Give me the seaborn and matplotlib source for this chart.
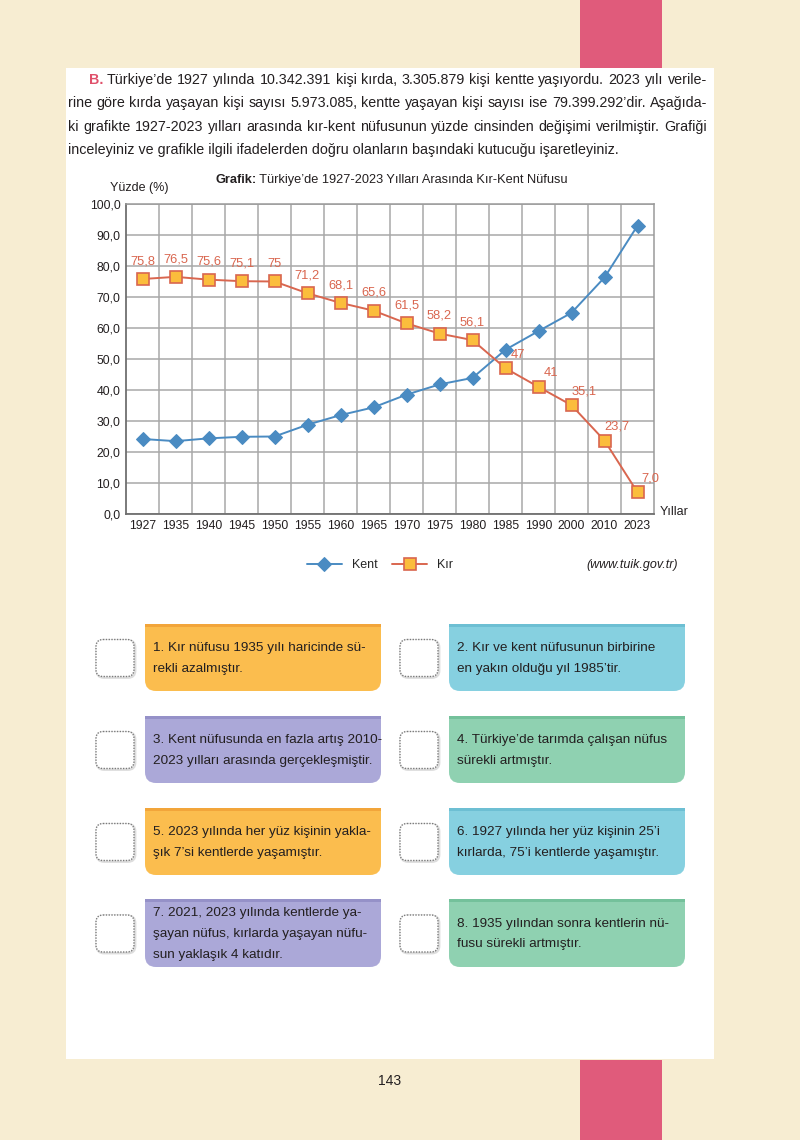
import matplotlib
import numpy as np
import pandas as pd
import seaborn as sns
from matplotlib import pyplot as plt
from matplotlib.patches import FancyBboxPatch, Rectangle

matplotlib.use("Agg")

# --- data -----------------------------------------------------------------
years = ["1927", "1935", "1940", "1945", "1950", "1955", "1960", "1965",
         "1970", "1975", "1980", "1985", "1990", "2000", "2010", "2023"]
kent = [24.2, 23.5, 24.4, 24.9, 25.0, 28.8, 31.9, 34.4,
        38.5, 41.8, 43.9, 53.0, 59.0, 64.9, 76.3, 93.0]
kir = [75.8, 76.5, 75.6, 75.1, 75.0, 71.2, 68.1, 65.6,
       61.5, 58.2, 56.1, 47.0, 41.0, 35.1, 23.7, 7.0]
kir_labels = ["75,8", "76,5", "75,6", "75,1", "75", "71,2", "68,1", "65,6",
              "61,5", "58,2", "56,1", "47", "41", "35,1", "23,7", "7,0"]
y_ticks = [0, 10, 20, 30, 40, 50, 60, 70, 80, 90, 100]

intro_lead = "B."
intro_lines = [
    "Türkiye’de 1927 yılında 10.342.391 kişi kırda, 3.305.879 kişi kentte yaşıyordu. 2023 yılı verile-",
    "rine göre kırda yaşayan kişi sayısı 5.973.085, kentte yaşayan kişi sayısı ise 79.399.292’dir. Aşağıda-",
    "ki grafikte 1927-2023 yılları arasında kır-kent nüfusunun yüzde cinsinden değişimi verilmiştir. Grafiği",
    "inceleyiniz ve grafikle ilgili ifadelerden doğru olanların başındaki kutucuğu işaretleyiniz.",
]
chart_title = ("Grafik:", " Türkiye’de 1927-2023 Yılları Arasında Kır-Kent Nüfusu")
source_text = "(www.tuik.gov.tr)"
page_number = "143"

statements = [
    ["1. Kır nüfusu 1935 yılı haricinde sü-", "rekli azalmıştır."],
    ["2. Kır ve kent nüfusunun birbirine", "en yakın olduğu yıl 1985’tir."],
    ["3. Kent nüfusunda en fazla artış 2010-", "2023 yılları arasında gerçekleşmiştir."],
    ["4. Türkiye’de tarımda çalışan nüfus", "sürekli artmıştır."],
    ["5. 2023 yılında her yüz kişinin yakla-", "şık 7’si kentlerde yaşamıştır."],
    ["6. 1927 yılında her yüz kişinin 25’i", "kırlarda, 75’i kentlerde yaşamıştır."],
    ["7. 2021, 2023 yılında kentlerde ya-", "şayan nüfus, kırlarda yaşayan nüfu-", "sun yaklaşık 4 katıdır."],
    ["8. 1935 yılından sonra kentlerin nü-", "fusu sürekli artmıştır."],
]

# --- styling --------------------------------------------------------------
CREAM = "#f7edd2"
PINK = "#e05b7b"
KENT_C = "#4a8bc2"
KIR_C = "#d9664f"
KIR_FACE = "#fbbd3c"
GRID_C = "#a8a8a8"
TEXT_C = "#231f20"
CARD_COLORS = [("#fbbd4e", "#f2a53a"), ("#86d0e0", "#6dbfd3"),
               ("#aba8d8", "#9591c8"), ("#8fd1b1", "#74c19b")]

sns.set_theme(style="white")
plt.rcParams["font.family"] = ["Liberation Sans", "DejaVu Sans"]

fig = plt.figure(figsize=(8, 11.4), dpi=100, facecolor=CREAM)
page = fig.add_axes([0, 0, 1, 1])
page.set_xlim(0, 800)
page.set_ylim(1140, 0)
page.axis("off")
renderer = fig.canvas.get_renderer()


def text_width(t):
    return t.get_window_extent(renderer).width


def justify(words, x0, x1, y, size):
    items = [page.text(0, y, w, fontsize=size, va="center", ha="left", color=TEXT_C)
             for w in words]
    widths = [text_width(t) for t in items]
    gap = (x1 - x0 - sum(widths)) / max(len(items) - 1, 1)
    x = x0
    for t, w in zip(items, widths):
        t.set_x(x)
        x += w + gap


# page frame
page.add_patch(Rectangle((66, 68), 648, 991, facecolor="white", edgecolor="none"))
page.add_patch(Rectangle((580, 0), 82, 68, facecolor=PINK, edgecolor="none"))
page.add_patch(Rectangle((580, 1060), 82, 80, facecolor=PINK, edgecolor="none"))

# intro paragraph
para_size = 10.25
lead = page.text(89, 80, intro_lead, fontsize=para_size, va="center", ha="left",
                 color="#e0506a", fontweight="bold")
lead_w = text_width(lead)
line_ys = [80, 103, 127, 150]
for i, (line, y) in enumerate(zip(intro_lines, line_ys)):
    x0 = 89 + lead_w + 3 if i == 0 else 68
    if i < 3:
        justify(line.split(), x0, 707, y, para_size)
    else:
        page.text(x0, y, line, fontsize=para_size, va="center", ha="left", color=TEXT_C)

# chart title and labels
t1 = page.text(215, 180, chart_title[0], fontsize=9.2, fontweight="bold",
               va="center", ha="left", color=TEXT_C)
page.text(215 + text_width(t1), 180, chart_title[1], fontsize=9.2,
          va="center", ha="left", color=TEXT_C)
page.text(110, 188, "Yüzde (%)", fontsize=9, va="center", ha="left", color=TEXT_C)
page.text(660, 512, "Yıllar", fontsize=9, va="center", ha="left", color=TEXT_C)
page.text(678, 565, source_text, fontsize=9, style="italic", va="center",
          ha="right", color=TEXT_C)
page.text(390, 1081, page_number, fontsize=10, va="center", ha="center", color=TEXT_C)

# --- line chart -------------------------------------------------------------
df = pd.DataFrame({"year": years, "Kent": kent, "Kır": kir})
df["pos"] = np.arange(len(df))

ax = fig.add_axes([126 / 800, (1140 - 514) / 1140, 528 / 800, 310 / 1140])
ax.set_facecolor("white")
sns.lineplot(data=df, x="pos", y="Kent", ax=ax, color=KENT_C, linewidth=1.4,
             marker="D", markersize=6.8, markeredgecolor=KENT_C, label="Kent", zorder=3)
sns.lineplot(data=df, x="pos", y="Kır", ax=ax, color=KIR_C, linewidth=1.4,
             marker="s", markersize=9, markerfacecolor=KIR_FACE,
             markeredgecolor=KIR_C, markeredgewidth=1.2, label="Kır", zorder=4)

for i, (v, lab) in enumerate(zip(kir, kir_labels)):
    off = (0, 8.5) if kir[i] > kent[i] else (9, 5.5)
    ax.annotate(lab, (df["pos"][i], v), xytext=off, textcoords="offset points",
                ha="center", va="bottom", fontsize=9.3, color=KIR_C)

ax.set_xlim(-0.5, len(years) - 0.5)
ax.set_ylim(0, 100)
ax.set_xticks(df["pos"])
ax.set_xticklabels(years)
ax.set_xticks(np.arange(0.5, len(years) - 1, 1), minor=True)
ax.set_yticks(y_ticks)
ax.set_yticklabels([f"{v:.1f}".replace(".", ",") for v in y_ticks])
ax.tick_params(which="both", length=0, labelsize=8.8, colors=TEXT_C, pad=4)
ax.grid(which="minor", axis="x", color=GRID_C, linewidth=1.1)
ax.grid(which="major", axis="y", color=GRID_C, linewidth=1.1)
ax.grid(which="major", axis="x", visible=False)
ax.set_xlabel("")
ax.set_ylabel("")
for side in ["top", "right"]:
    ax.spines[side].set_color("#9a9a9a")
    ax.spines[side].set_linewidth(1.1)
for side in ["left", "bottom"]:
    ax.spines[side].set_color("#6f6f6f")
    ax.spines[side].set_linewidth(1.3)

ax.legend(loc="center", bbox_to_anchor=(380 / 800, 1 - 565 / 1140),
          bbox_transform=fig.transFigure, ncol=2, frameon=False, fontsize=9,
          handlelength=2.8, columnspacing=1.2, handletextpad=0.8)

# --- statement cards ------------------------------------------------------
card_rows = [(624, 67), (716, 67), (808, 67), (899, 68)]
card_cols = [145, 449]
card_w = 236
for k, lines in enumerate(statements):
    row, col = divmod(k, 2)
    top, h = card_rows[row]
    x = card_cols[col]
    face, edge = CARD_COLORS[(2 * (row % 2) + col)]
    page.add_patch(FancyBboxPatch((x, top), card_w, h, boxstyle="round,pad=0,rounding_size=11",
                                  facecolor=face, edgecolor="none"))
    page.add_patch(Rectangle((x, top), card_w, h / 2, facecolor=face, edgecolor="none"))
    page.add_patch(Rectangle((x, top), card_w, 3, facecolor=edge, edgecolor="none"))
    mid = top + h / 2 + 1
    n = len(lines)
    for j, ln in enumerate(lines):
        page.text(x + 8, mid + (j - (n - 1) / 2) * 21, ln, fontsize=9.7,
                  va="center", ha="left", color=TEXT_C)
    # check box
    bx = x - 49
    by = mid - 19
    page.add_patch(FancyBboxPatch((bx + 1, by + 1), 38, 37, boxstyle="round,pad=0,rounding_size=7",
                                  facecolor="none", edgecolor="#dddddd", linewidth=2))
    page.add_patch(FancyBboxPatch((bx, by), 38, 37, boxstyle="round,pad=0,rounding_size=7",
                                  facecolor="white", edgecolor="#7a7a7a", linewidth=1,
                                  linestyle=(0, (1, 1))))

fig.savefig("out.png", dpi=100, facecolor=CREAM)
